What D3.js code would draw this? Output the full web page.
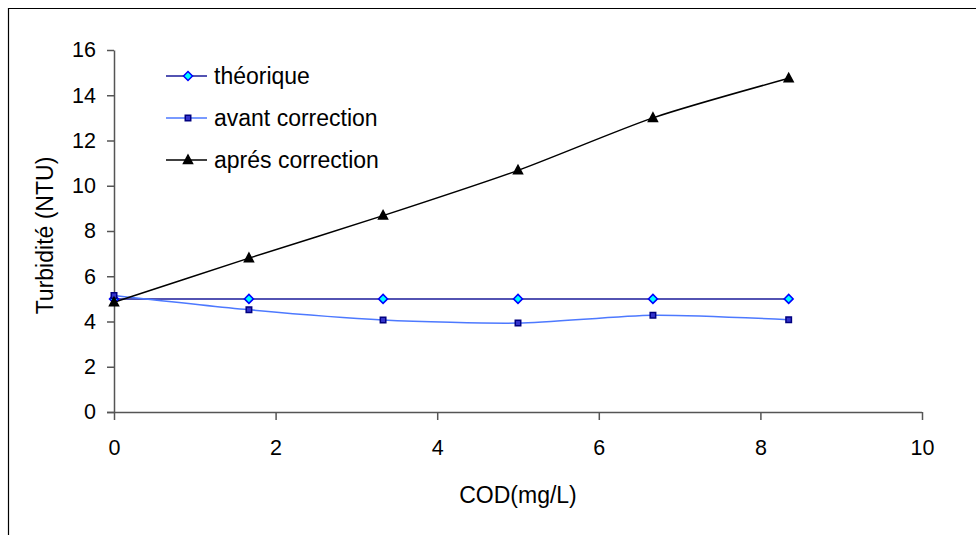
<!DOCTYPE html>
<html>
<head>
<meta charset="utf-8">
<script src="https://cdn.jsdelivr.net/npm/d3@7"></script>
<style>
  body { margin: 0; background: #fff; }
  text { font-family: "Liberation Sans", Arial, sans-serif; fill: #000; }
  .tick-label { font-size: 21.5px; }
  .axis-label { font-size: 23px; }
  .legend-label { font-size: 23px; }
</style>
</head>
<body>
<div id="chart"></div>
<script>
const width = 976;
const height = 535;
const margin = { top: 50, right: 54, bottom: 123, left: 114 };
const innerWidth = width - margin.left - margin.right;
const innerHeight = height - margin.top - margin.bottom;

// COD concentrations (mg/L)
const cod = [0, 1.67, 3.33, 5, 6.67, 8.35];
// turbidity readings (NTU)
const theorique = [5, 5, 5, 5, 5, 5];
const avantCorrection = [5.15, 4.52, 4.07, 3.93, 4.28, 4.08];
const apresCorrection = [4.85, 6.8, 8.68, 10.68, 13.0, 14.75];

const xTicks = [0, 2, 4, 6, 8, 10];
const yTicks = [0, 2, 4, 6, 8, 10, 12, 14, 16];

const seriesNames = ["théorique", "avant correction", "aprés correction"];
const seriesValues = [theorique, avantCorrection, apresCorrection];
const seriesStyles = [
  { line: "#1a1a99", marker: "diamond", fill: "#00ffff", stroke: "#0000ff" },
  { line: "#4d79ff", marker: "square", fill: "#3333cc", stroke: "#000080" },
  { line: "#000000", marker: "triangle", fill: "#000000", stroke: "#000000" }
];

const svg = d3.select("#chart")
  .append("svg")
  .attr("width", width)
  .attr("height", height);

// outer frame (runs off the right and bottom edges)
svg.append("path")
  .attr("d", `M8.5,${height + 2} V8.5 H${width + 2}`)
  .attr("fill", "none")
  .attr("stroke", "#000")
  .attr("stroke-width", 1.2);

const innerChart = svg.append("g")
  .attr("transform", `translate(${margin.left}, ${margin.top})`);

const xScale = d3.scaleLinear().domain([0, 10]).range([0, innerWidth]);
const yScale = d3.scaleLinear().domain([0, 16]).range([innerHeight, 0]);

// axes
const bottomAxis = d3.axisBottom(xScale)
  .tickValues(xTicks)
  .tickSizeInner(8)
  .tickSizeOuter(0)
  .tickPadding(20);
const leftAxis = d3.axisLeft(yScale)
  .tickValues(yTicks)
  .tickSizeInner(7)
  .tickSizeOuter(0)
  .tickPadding(11);

const xAxisG = innerChart.append("g")
  .attr("transform", `translate(0, ${innerHeight})`)
  .call(bottomAxis);
const yAxisG = innerChart.append("g").call(leftAxis);

[xAxisG, yAxisG].forEach(g => {
  g.attr("font-size", null).attr("font-family", null);
  g.select(".domain").attr("stroke", "#555").attr("stroke-width", 1.5);
  g.selectAll(".tick line").attr("stroke", "#555").attr("stroke-width", 1.5);
  g.selectAll(".tick text").attr("class", "tick-label");
});
xAxisG.select(".domain").attr("d", `M-7,0.5H${innerWidth}`);

// axis titles
svg.append("text")
  .attr("class", "axis-label")
  .attr("text-anchor", "middle")
  .attr("x", margin.left + xScale(5))
  .attr("y", 503)
  .text("COD(mg/L)");

svg.append("text")
  .attr("class", "axis-label")
  .attr("text-anchor", "middle")
  .attr("transform", `translate(53, ${margin.top + yScale(7.8)}) rotate(-90)`)
  .text("Turbidité (NTU)");

// smoothed series lines
const lineGen = d3.line()
  .x(d => xScale(d[0]))
  .y(d => yScale(d[1]))
  .curve(d3.curveCardinal.tension(0.3));

// small Excel-style markers
const diamond = { draw(ctx) { ctx.moveTo(0, -4.5); ctx.lineTo(4.5, 0); ctx.lineTo(0, 4.5); ctx.lineTo(-4.5, 0); ctx.closePath(); } };
const triangle = { draw(ctx) { ctx.moveTo(0, -5); ctx.lineTo(4.5, 3.5); ctx.lineTo(-4.5, 3.5); ctx.closePath(); } };
const symbolFor = {
  diamond: d3.symbol().type(diamond),
  square: d3.symbol().type(d3.symbolSquare).size(30),
  triangle: d3.symbol().type(triangle)
};

seriesValues.forEach((vals, i) => {
  const pts = cod.map((c, j) => [c, vals[j]]);
  const st = seriesStyles[i];
  innerChart.append("path")
    .datum(pts)
    .attr("d", lineGen)
    .attr("fill", "none")
    .attr("stroke", st.line)
    .attr("stroke-width", 1.5);
});

seriesValues.forEach((vals, i) => {
  const pts = cod.map((c, j) => [c, vals[j]]);
  const st = seriesStyles[i];
  innerChart.selectAll(null)
    .data(pts)
    .join("path")
    .attr("transform", d => `translate(${xScale(d[0])}, ${yScale(d[1])})`)
    .attr("d", symbolFor[st.marker])
    .attr("fill", st.fill)
    .attr("stroke", st.stroke)
    .attr("stroke-width", 1.5);
});

// legend
const legendRows = [76, 118, 160];
const legend = svg.append("g");
seriesNames.forEach((name, i) => {
  const st = seriesStyles[i];
  const y = legendRows[i];
  legend.append("line")
    .attr("x1", 166).attr("x2", 207)
    .attr("y1", y).attr("y2", y)
    .attr("stroke", st.line)
    .attr("stroke-width", 1.5);
  legend.append("path")
    .attr("transform", `translate(188, ${y})`)
    .attr("d", symbolFor[st.marker])
    .attr("fill", st.fill)
    .attr("stroke", st.stroke)
    .attr("stroke-width", 1.5);
  legend.append("text")
    .attr("class", "legend-label")
    .attr("x", 214)
    .attr("y", y + 8)
    .text(name);
});
</script>
</body>
</html>
